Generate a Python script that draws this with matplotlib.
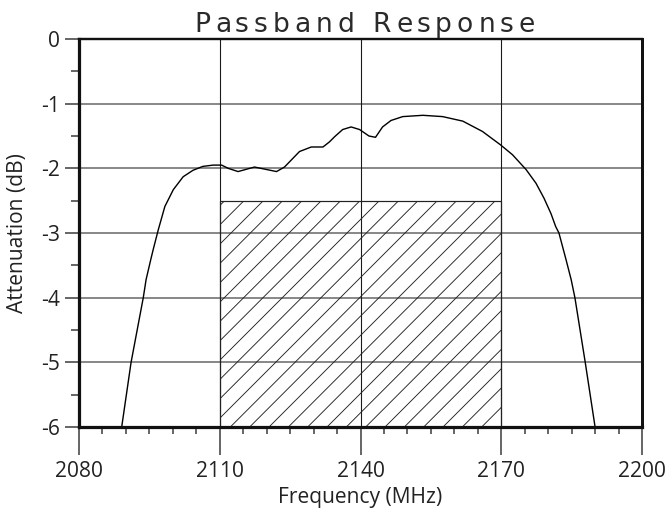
import matplotlib
matplotlib.use('Agg')
import matplotlib.pyplot as plt
from matplotlib.ticker import MultipleLocator, FixedLocator
from matplotlib.patches import Rectangle
from matplotlib.font_manager import FontProperties

DPI = 116
W, H = 668, 515


def pt(px):
    return px * 72.0 / DPI


# ---------------- data ----------------
freq = [2089.1, 2091.1, 2093.7, 2094.3, 2095.3, 2095.8, 2096.9, 2098.3, 2100.1,
        2102.2, 2104.3, 2106.4, 2108.6, 2110.4, 2111.8, 2113.9, 2117.4, 2122.1,
        2123.8, 2127.0, 2129.5, 2132.0, 2133.4, 2134.5, 2136.2, 2138.0, 2139.8,
        2141.8, 2143.2, 2144.7, 2146.5, 2149.0, 2153.3, 2157.5, 2161.8, 2166.0,
        2169.9, 2172.4, 2175.3, 2177.4, 2179.1, 2180.6, 2181.6, 2182.3, 2182.7,
        2183.8, 2184.9, 2185.7, 2187.9, 2190.0]
atten = [-6.00, -5.00, -4.00, -3.72, -3.41, -3.26, -2.95, -2.59, -2.33,
         -2.13, -2.03, -1.97, -1.95, -1.95, -2.00, -2.05, -1.98, -2.05,
         -1.98, -1.74, -1.67, -1.67, -1.59, -1.51, -1.40, -1.36, -1.40,
         -1.50, -1.52, -1.36, -1.26, -1.20, -1.18, -1.20, -1.27, -1.43,
         -1.64, -1.79, -2.02, -2.23, -2.46, -2.70, -2.90, -3.00, -3.11,
         -3.41, -3.72, -4.00, -5.00, -6.00]

spec_band = [2110, 2170]
spec_level = -2.5
xlim = [2080, 2200]
ylim = [-6, 0]
xticks = [2080, 2110, 2140, 2170, 2200]
yticks = [0, -1, -2, -3, -4, -5, -6]
title = "Passband Response"
xlabel = "Frequency (MHz)"
ylabel = "Attenuation (dB)"

# ---------------- figure ----------------
plt.rcParams['hatch.linewidth'] = pt(0.9)
fig = plt.figure(figsize=(W / DPI, H / DPI), dpi=DPI)
L, R, T, B = 79, 642, 39, 427
ax = fig.add_axes([L / W, 1 - B / H, (R - L) / W, (B - T) / H])
ax.set_xlim(xlim)
ax.set_ylim(ylim)

# grid lines
for y in yticks[1:-1]:
    ax.axhline(y, color='#6e6e6e', lw=pt(1.6), zorder=1)
for x in xticks[1:-1]:
    ax.axvline(x, color='#1a1a1a', lw=pt(1.1), zorder=1)

# hatched specification box
ax.add_patch(Rectangle((spec_band[0], ylim[0]), spec_band[1] - spec_band[0],
                       spec_level - ylim[0], fill=False, hatch='//',
                       edgecolor='#222222', lw=pt(1.2), zorder=2))

# response curve
ax.plot(freq, atten, color='black', lw=pt(1.4), zorder=3,
        solid_joinstyle='round', solid_capstyle='butt')

# ticks
ax.xaxis.set_major_locator(FixedLocator(xticks))
ax.xaxis.set_minor_locator(MultipleLocator(5))
ax.yaxis.set_major_locator(FixedLocator(yticks))
ax.yaxis.set_minor_locator(MultipleLocator(0.5))
ax.set_xticklabels([str(v) for v in xticks])
ax.set_yticklabels([str(v) for v in yticks])

tickfont = 'Open Sans'
ax.tick_params(axis='x', which='major', direction='out', length=pt(28),
               width=pt(1.6), color='#444444', pad=pt(6),
               labelsize=pt(21), labelcolor='#222222')
ax.tick_params(axis='x', which='minor', direction='out', length=pt(7),
               width=pt(1.6), color='#444444')
ax.tick_params(axis='y', which='major', direction='out', length=pt(14),
               width=pt(1.6), color='#444444', pad=pt(5),
               labelsize=pt(21), labelcolor='#222222')
ax.tick_params(axis='y', which='minor', direction='out', length=pt(8),
               width=pt(1.6), color='#444444')
for lab in ax.get_xticklabels() + ax.get_yticklabels():
    lab.set_family(tickfont)

for side, w in [('left', 3.2), ('bottom', 3.2), ('right', 3.0), ('top', 2.4)]:
    ax.spines[side].set_linewidth(pt(w))
    ax.spines[side].set_color('#111111')
    ax.spines[side].set_zorder(5)

# axis labels
fig.text((L + R) / 2 / W, 1 - 498 / H, xlabel, ha='center', va='center',
         family=tickfont, fontsize=pt(21), color='#222222')
fig.text(18 / W, 1 - (T + B) / 2 / H, ylabel, ha='center', va='center',
         rotation=90, family=tickfont, fontsize=pt(21), color='#222222')

# letter-spaced title
fp = FontProperties(family='DejaVu Sans', size=pt(26.5))
renderer = fig.canvas.get_renderer()


def adv(s):
    if not s:
        return 0.0
    w, h, d = renderer.get_text_width_height_descent(
        s.replace(' ', '\u00a0'), fp, ismath=False)
    return w


target_width = 341.0
spacing = (target_width - adv(title)) / (len(title) - 1)
x0 = (L + R) / 2 + 4 - target_width / 2
ybase = 1 - 32 / H
for i, ch in enumerate(title):
    if ch == ' ':
        continue
    xpos = x0 + adv(title[:i]) + spacing * i
    fig.text(xpos / W, ybase, ch, ha='left', va='baseline',
             fontproperties=fp, color='#2a2a2a')

fig.savefig('out.png', dpi=DPI)
